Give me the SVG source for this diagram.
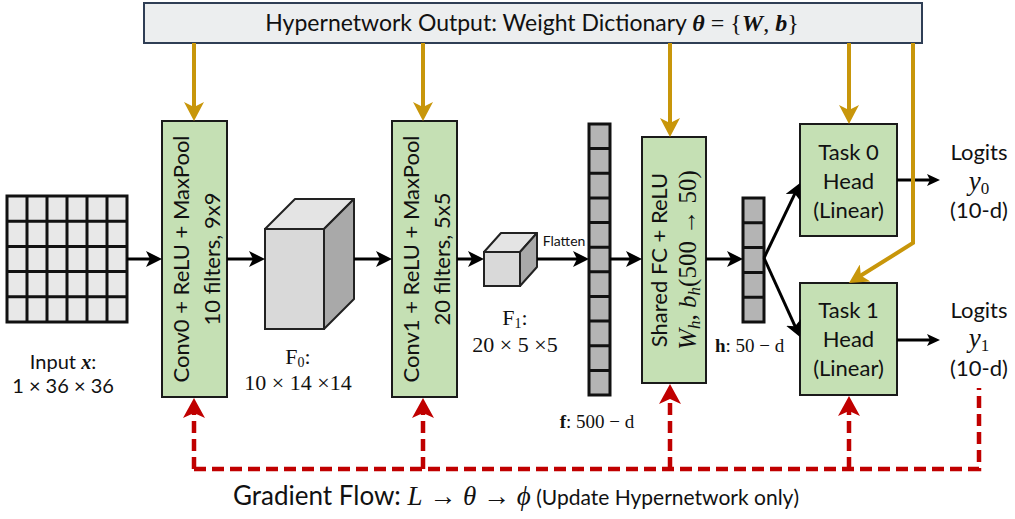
<svg xmlns="http://www.w3.org/2000/svg" width="1015" height="519" viewBox="0 0 1015 519">
  <style>
    .sans { font-family: Lato, "Liberation Sans", sans-serif; fill: #111; }
    .serif { font-family: "Liberation Serif", "DejaVu Serif", serif; fill: #111; }
    .mi { font-style: italic; }
    .mb { font-style: italic; font-weight: bold; }
    .block { fill: #c5e0b4; stroke: #1a1a1a; stroke-width: 2; }
    .vec { fill: #b4b4b4; stroke: #111; stroke-width: 3; }
    .cell { stroke: #111; stroke-width: 3; }
    .flow { stroke: #000; stroke-width: 3; fill: none; }
    .weights { stroke: #c8960a; stroke-width: 4; fill: none; }
    .grad { stroke: #c00000; stroke-width: 4.5; stroke-dasharray: 12 6; fill: none; }
  </style>
  <defs>
    <marker id="ah" viewBox="0 0 16 16" refX="10" refY="8" markerWidth="16" markerHeight="16" markerUnits="userSpaceOnUse" orient="auto">
      <path d="M0,0 L16,8 L0,16 L4,8 z" fill="#000"/>
    </marker>
    <marker id="ahs" viewBox="0 0 13 12" refX="8" refY="6" markerWidth="13" markerHeight="12" markerUnits="userSpaceOnUse" orient="auto">
      <path d="M0,0 L13,6 L0,12 L3,6 z" fill="#000"/>
    </marker>
    <marker id="ahGold" viewBox="0 0 19 20" refX="12" refY="10" markerWidth="19" markerHeight="20" markerUnits="userSpaceOnUse" orient="auto">
      <path d="M0,0 L19,10 L0,20 L5,10 z" fill="#c8960a"/>
    </marker>
    <marker id="ahRed" viewBox="0 0 20 22" refX="13" refY="11" markerWidth="20" markerHeight="22" markerUnits="userSpaceOnUse" orient="auto">
      <path d="M0,0 L20,11 L0,22 L5,11 z" fill="#c00000"/>
    </marker>
  </defs>

  <rect width="1015" height="519" fill="#fff"/>

  <!-- hypernetwork output bar -->
  <g id="hypernet">
    <rect x="144" y="3" width="778" height="40" fill="#eceeef" stroke="#2f3e55" stroke-width="2"/>
    <text x="532" y="31" text-anchor="middle" class="sans" font-size="23">Hypernetwork Output: Weight Dictionary <tspan class="serif mb" font-size="24">θ</tspan><tspan class="serif" font-size="24"> = {</tspan><tspan class="serif mb" font-size="24">W</tspan><tspan class="serif" font-size="24">, </tspan><tspan class="serif mb" font-size="24">b</tspan><tspan class="serif" font-size="24">}</tspan></text>
  </g>

  <!-- input image grid -->
  <g id="input">
    <rect x="7" y="196" width="120" height="126" fill="#e8e8e8" stroke="#111" stroke-width="3"/>
    <path class="cell" d="M27,196V322 M47,196V322 M67,196V322 M87,196V322 M107,196V322 M7,221.2H127 M7,246.4H127 M7,271.6H127 M7,296.8H127"/>
    <text x="63" y="369" text-anchor="middle" class="sans" font-size="20">Input <tspan class="serif mb">x</tspan>:</text>
    <text x="63" y="393" text-anchor="middle" class="sans" font-size="20">1 × 36 × 36</text>
  </g>

  <g id="conv0">
    <rect class="block" x="162" y="121" width="65" height="276"/>
    <g transform="translate(194.5,259) rotate(-90)">
      <text x="0" y="-6" text-anchor="middle" class="sans" font-size="22">Conv0 + ReLU + MaxPool</text>
      <text x="0" y="25" text-anchor="middle" class="sans" font-size="22">10 filters, 9x9</text>
    </g>
  </g>

  <g id="f0">
    <polygon points="265,229 295,199 354,199 324,229" fill="#e4e4e4" stroke="#222" stroke-width="2" stroke-linejoin="round"/>
    <polygon points="324,229 354,199 354,299 324,329" fill="#a9a9a9" stroke="#222" stroke-width="2" stroke-linejoin="round"/>
    <rect x="265" y="229" width="59" height="100" fill="#d9d9d9" stroke="#222" stroke-width="2"/>
    <text x="298" y="364" text-anchor="middle" class="serif" font-size="22">F<tspan font-size="14" dy="3">0</tspan><tspan dy="-3">:</tspan></text>
    <text x="298" y="390" text-anchor="middle" class="serif" font-size="22">10 × 14 ×14</text>
  </g>

  <g id="conv1">
    <rect class="block" x="392" y="121" width="65" height="276"/>
    <g transform="translate(424.5,259) rotate(-90)">
      <text x="0" y="-6" text-anchor="middle" class="sans" font-size="22">Conv1 + ReLU + MaxPool</text>
      <text x="0" y="25" text-anchor="middle" class="sans" font-size="22">20 filters, 5x5</text>
    </g>
  </g>

  <g id="f1">
    <polygon points="484,252 501,233 537,233 520,252" fill="#e4e4e4" stroke="#222" stroke-width="2" stroke-linejoin="round"/>
    <polygon points="520,252 537,233 537,267 520,286" fill="#a9a9a9" stroke="#222" stroke-width="2" stroke-linejoin="round"/>
    <rect x="484" y="252" width="36" height="34" fill="#d9d9d9" stroke="#222" stroke-width="2"/>
    <text x="515" y="325" text-anchor="middle" class="serif" font-size="22">F<tspan font-size="14" dy="3">1</tspan><tspan dy="-3">:</tspan></text>
    <text x="515" y="352" text-anchor="middle" class="serif" font-size="22">20 × 5 ×5</text>
  </g>

  <g id="flatten">
    <rect class="vec" x="589" y="124" width="21" height="271"/>
    <path class="cell" d="M589,148.6H610 M589,173.3H610 M589,197.9H610 M589,222.5H610 M589,247.2H610 M589,271.8H610 M589,296.5H610 M589,321.1H610 M589,345.7H610 M589,370.4H610"/>
    <text x="597" y="428" text-anchor="middle" class="serif" font-size="19"><tspan font-weight="bold">f</tspan>: 500 − d</text>
  </g>

  <g id="shared-fc">
    <rect class="block" x="642" y="137" width="64" height="246"/>
    <g transform="translate(674,260) rotate(-90)">
      <text x="0" y="-7" text-anchor="middle" class="sans" font-size="22">Shared FC + ReLU</text>
      <text x="0" y="22" text-anchor="middle" class="serif" font-size="25"><tspan class="mi">W</tspan><tspan class="mi" font-size="17" dy="4">h</tspan><tspan dy="-4">, </tspan><tspan class="mi">b</tspan><tspan class="mi" font-size="17" dy="4">h</tspan><tspan dy="-4">(500 → 50)</tspan></text>
    </g>
  </g>

  <g id="hidden">
    <rect class="vec" x="743" y="198" width="21" height="124"/>
    <path class="cell" d="M743,222.8H764 M743,247.6H764 M743,272.4H764 M743,297.2H764"/>
    <text x="715" y="352" class="serif" font-size="19"><tspan font-weight="bold">h</tspan>: 50 − d</text>
  </g>

  <g id="task0">
    <rect class="block" x="800" y="124" width="97" height="112"/>
    <text x="848.5" y="160" text-anchor="middle" class="sans" font-size="22">Task 0</text>
    <text x="848.5" y="189" text-anchor="middle" class="sans" font-size="22">Head</text>
    <text x="848.5" y="218" text-anchor="middle" class="sans" font-size="22">(Linear)</text>
  </g>

  <g id="task1">
    <rect class="block" x="800" y="283" width="97" height="112"/>
    <text x="848.5" y="318" text-anchor="middle" class="sans" font-size="22">Task 1</text>
    <text x="848.5" y="347" text-anchor="middle" class="sans" font-size="22">Head</text>
    <text x="848.5" y="376" text-anchor="middle" class="sans" font-size="22">(Linear)</text>
  </g>

  <g id="logits0">
    <text x="979" y="160" text-anchor="middle" class="sans" font-size="22">Logits</text>
    <text x="979" y="190" text-anchor="middle" class="serif" font-size="27"><tspan class="mi">y</tspan><tspan font-size="17" dy="4">0</tspan></text>
    <text x="979" y="218" text-anchor="middle" class="sans" font-size="22">(10-d)</text>
  </g>

  <g id="logits1">
    <text x="979" y="318" text-anchor="middle" class="sans" font-size="22">Logits</text>
    <text x="979" y="347" text-anchor="middle" class="serif" font-size="27"><tspan class="mi">y</tspan><tspan font-size="17" dy="4">1</tspan></text>
    <text x="979" y="376" text-anchor="middle" class="sans" font-size="22">(10-d)</text>
  </g>

  <g id="connectors">
    <!-- forward pass -->
    <line class="flow" x1="127" y1="259" x2="156" y2="259" marker-end="url(#ah)"/>
    <line class="flow" x1="227" y1="259" x2="259" y2="259" marker-end="url(#ah)"/>
    <line class="flow" x1="354" y1="259" x2="386" y2="259" marker-end="url(#ah)"/>
    <line class="flow" x1="457" y1="259" x2="478" y2="259" marker-end="url(#ah)"/>
    <line class="flow" x1="537" y1="259" x2="583" y2="259" marker-end="url(#ah)"/>
    <text x="564" y="246" text-anchor="middle" class="sans" font-size="14">Flatten</text>
    <line class="flow" x1="610" y1="259" x2="636" y2="259" marker-end="url(#ah)"/>
    <line class="flow" x1="706" y1="259" x2="737" y2="259" marker-end="url(#ah)"/>
    <line class="flow" x1="764" y1="258" x2="797.4" y2="188.4" marker-end="url(#ah)"/>
    <line class="flow" x1="764" y1="258" x2="797.5" y2="331.6" marker-end="url(#ah)"/>
    <line class="flow" x1="897" y1="180" x2="935" y2="180" marker-end="url(#ahs)"/>
    <line class="flow" x1="897" y1="340" x2="935" y2="340" marker-end="url(#ahs)"/>

    <!-- generated weights -->
    <line class="weights" x1="194" y1="43" x2="194" y2="114" marker-end="url(#ahGold)"/>
    <line class="weights" x1="423" y1="43" x2="423" y2="114" marker-end="url(#ahGold)"/>
    <line class="weights" x1="670" y1="43" x2="670" y2="130" marker-end="url(#ahGold)"/>
    <line class="weights" x1="849" y1="43" x2="849" y2="117" marker-end="url(#ahGold)"/>
    <polyline class="weights" points="913,43 913,243 854.9,279.3" marker-end="url(#ahGold)"/>

    <!-- gradient path -->
    <path class="grad" d="M194,469 H979 V388"/>
    <line class="grad" x1="194" y1="469" x2="194" y2="405" marker-end="url(#ahRed)"/>
    <line class="grad" x1="423" y1="469" x2="423" y2="405" marker-end="url(#ahRed)"/>
    <line class="grad" x1="670" y1="469" x2="670" y2="391" marker-end="url(#ahRed)"/>
    <line class="grad" x1="849" y1="469" x2="849" y2="403" marker-end="url(#ahRed)"/>
  </g>

  <text x="233" y="505" class="sans" font-size="26">Gradient Flow: <tspan class="serif mi" font-size="27">L</tspan><tspan class="serif" font-size="27"> → </tspan><tspan class="serif mi" font-size="27">θ</tspan><tspan class="serif" font-size="27"> → </tspan><tspan class="serif mi" font-size="27">ϕ</tspan><tspan font-size="21"> (Update Hypernetwork only)</tspan></text>
</svg>
